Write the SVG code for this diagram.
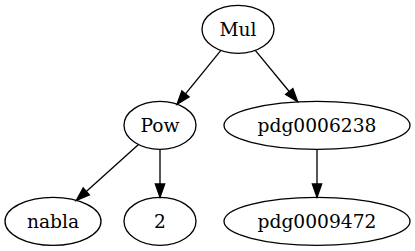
<svg xmlns="http://www.w3.org/2000/svg" width="415" height="251" viewBox="0 0 415 251">
<style>
.node ellipse{fill:none;stroke:#000;stroke-width:1.33}
.node text{font-family:"DejaVu Serif",serif;font-size:18.67px;text-anchor:middle;fill:#000}
.edge{stroke:#000;stroke-width:1.33;fill:none;marker-end:url(#arr)}
</style>
<defs>
<marker id="arr" markerUnits="userSpaceOnUse" markerWidth="16" markerHeight="12" refX="0" refY="0" viewBox="0 -6 16 12" orient="auto" overflow="visible">
<path d="M0,-4.67 L13.33,0 L0,4.67 Z" fill="#000" stroke="#000" stroke-width="1.33"/>
</marker>
</defs>
<rect width="415" height="251" fill="#fff"/>
<g id="connectors">
<path class="edge" d="M220.9,50.4 L185.5,93.9"/>
<path class="edge" d="M255.3,50.4 L289.2,91.5"/>
<path class="edge" d="M138.5,144.6 L86.3,191.4"/>
<path class="edge" d="M160,149.3 L160,184"/>
<path class="edge" d="M317,149.3 L317,184"/>
</g>
<g id="Mul" class="node"><ellipse cx="238" cy="29.33" rx="36" ry="24"/><text x="238" y="35.8">Mul</text></g>
<g id="Pow" class="node"><ellipse cx="160" cy="125.33" rx="36" ry="24"/><text x="160" y="131.8">Pow</text></g>
<g id="pdg0006238" class="node"><ellipse cx="317" cy="125.33" rx="93" ry="24"/><text x="317" y="131.8">pdg0006238</text></g>
<g id="nabla" class="node"><ellipse cx="53" cy="221.33" rx="48" ry="24"/><text x="53" y="227.8">nabla</text></g>
<g id="two" class="node"><ellipse cx="160" cy="221.33" rx="36" ry="24"/><text x="160" y="227.8">2</text></g>
<g id="pdg0009472" class="node"><ellipse cx="317" cy="221.33" rx="93" ry="24"/><text x="317" y="227.8">pdg0009472</text></g>
</svg>
